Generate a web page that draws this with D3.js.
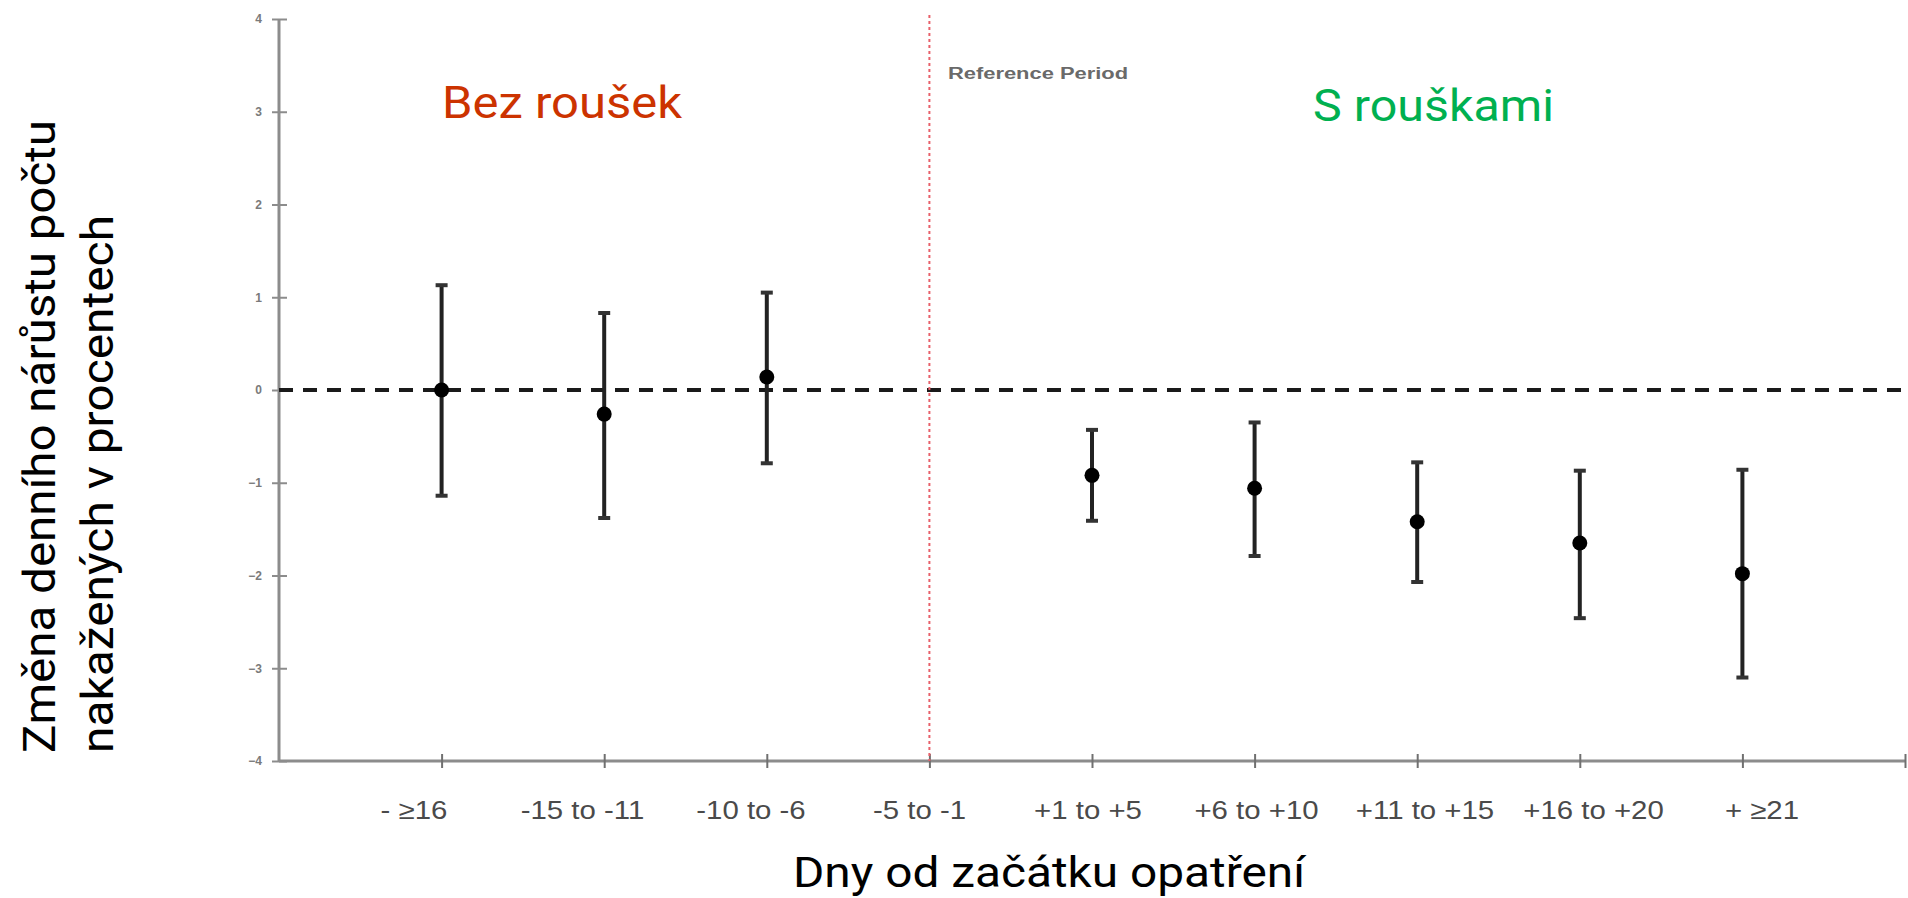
<!DOCTYPE html>
<html><head><meta charset="utf-8">
<script src="https://cdn.jsdelivr.net/npm/d3@7"></script>
<style>html,body{margin:0;padding:0;background:#fff;overflow:hidden}</style>
</head><body><svg id="c" width="1908" height="898"></svg>
<script>
// ---- data ----
const categories = ["- ≥16","-15 to -11","-10 to -6","-5 to -1","+1 to +5","+6 to +10","+11 to +15","+16 to +20","+ ≥21"];
const estimate = [0.00,-0.26,0.14,null,-0.92,-1.06,-1.42,-1.65,-1.98];
const lower    = [-1.14,-1.38,-0.79,null,-1.41,-1.79,-2.07,-2.46,-3.10];
const upper    = [1.13,0.83,1.05,null,-0.43,-0.35,-0.78,-0.87,-0.86];
const yTicks = [-4,-3,-2,-1,0,1,2,3,4];
const referenceCategory = "-5 to -1";
const yTitleLines = ["Změna denního nárůstu počtu","nakažených v procentech"];
const xTitle = "Dny od začátku opatření";
const leftLabel = "Bez roušek";
const rightLabel = "S rouškami";
const refLabel = "Reference Period";

// ---- layout ----
const svg = d3.select("#c");
const titleFont = "Roboto, 'DejaVu Sans', sans-serif";
const x = d3.scaleLinear().domain([-1, categories.length]).range([279, 1905]);
const xc = c => x(categories.indexOf(c));
const xLab = d3.scalePoint().domain(categories).range([414, 1762]);
const y = d3.scaleLinear().domain([-4, 4]).range([761, 19]);

// y axis
const yAxis = svg.append("g").attr("transform", `translate(${x(-1)},0)`)
  .call(d3.axisLeft(y).tickValues(yTicks).tickSize(7).tickFormat(d3.format("d")));
yAxis.select(".domain").attr("stroke", "#8c8c8c").attr("stroke-width", 3).attr("d", `M0,${y(4)}V${y(-4)}`);
yAxis.selectAll(".tick line").attr("stroke", "#8c8c8c").attr("stroke-width", 2).attr("x1", 8).attr("x2", -7);
yAxis.selectAll(".tick text").attr("x", -17).attr("fill", "#7a7a7a")
  .style("font", "bold 12px 'Liberation Sans', Arial, sans-serif");

// x axis
const xTickVals = d3.range(0, categories.length + 1);
const xAxis = svg.append("g").attr("transform", `translate(0,${y(-4)})`)
  .call(d3.axisBottom(x).tickValues(xTickVals).tickSize(7).tickFormat(""));
xAxis.select(".domain").attr("stroke", "#8c8c8c").attr("stroke-width", 3).attr("d", `M${x(-1)},0H${x(categories.length)}`);
xAxis.selectAll(".tick line").attr("stroke", "#707070").attr("stroke-width", 2).attr("y1", -7).attr("y2", 7);

// x tick labels
svg.append("g").selectAll("text").data(categories).join("text")
  .attr("x", d => xLab(d)).attr("y", 819)
  .attr("text-anchor", "middle").attr("fill", "#4a4a4a")
  .style("font", "26px 'Liberation Sans', Arial, sans-serif")
  .text(d => d)
  .each(function(){ const w = this.getComputedTextLength(); d3.select(this).attr("textLength", w*1.13).attr("lengthAdjust","spacingAndGlyphs"); });

// zero dashed line
svg.append("line").attr("x1", x(-1)).attr("x2", 1908).attr("y1", y(0)).attr("y2", y(0))
  .attr("stroke", "#1a1a1a").attr("stroke-width", 4).attr("stroke-dasharray", "14 10");

// reference line
svg.append("line").attr("x1", xc(referenceCategory)).attr("x2", xc(referenceCategory))
  .attr("y1", 15).attr("y2", y(-4))
  .attr("stroke", "#e8606a").attr("stroke-width", 2).attr("stroke-dasharray", "3 3");

// error bars
const pts = categories.map((c,i)=>({c, e:estimate[i], lo:lower[i], hi:upper[i]})).filter(d=>d.e!==null);
const g = svg.append("g");
g.selectAll("line.bar").data(pts).join("line").attr("class","bar")
  .attr("x1", d=>xc(d.c)).attr("x2", d=>xc(d.c)).attr("y1", d=>y(d.hi)).attr("y2", d=>y(d.lo))
  .attr("stroke", "#222").attr("stroke-width", 4);
["hi","lo"].forEach(k=>{
  g.selectAll("line.cap"+k).data(pts).join("line").attr("class","cap"+k)
    .attr("x1", d=>xc(d.c)-6).attr("x2", d=>xc(d.c)+6).attr("y1", d=>y(d[k])).attr("y2", d=>y(d[k]))
    .attr("stroke", "#333").attr("stroke-width", 4);
});
g.selectAll("circle").data(pts).join("circle")
  .attr("cx", d=>xc(d.c)).attr("cy", d=>y(d.e)).attr("r", 7.5).attr("fill", "#000");

// annotations
svg.append("text").attr("x", 442).attr("y", 118).attr("fill", "#cc3300")
  .attr("textLength", 240).attr("lengthAdjust","spacingAndGlyphs")
  .style("font", `44px ${titleFont}`).text(leftLabel);
svg.append("text").attr("x", 1313).attr("y", 121).attr("fill", "#00b050")
  .attr("textLength", 241).attr("lengthAdjust","spacingAndGlyphs")
  .style("font", `44px ${titleFont}`).text(rightLabel);
svg.append("text").attr("x", 948).attr("y", 79).attr("fill", "#6a6a6a")
  .attr("textLength", 180).attr("lengthAdjust","spacingAndGlyphs")
  .style("font", "bold 16px 'Liberation Sans', Arial, sans-serif").text(refLabel);

// axis titles
svg.append("text").attr("x", 793).attr("y", 887).attr("fill", "#000")
  .attr("textLength", 512).attr("lengthAdjust","spacingAndGlyphs")
  .style("font", `42px ${titleFont}`).text(xTitle);
const yLens = [633, 538];
const yBase = [55, 113];
yTitleLines.forEach((t,i)=>{
  svg.append("text").attr("transform", `translate(${yBase[i]},753) rotate(-90)`)
    .attr("fill", "#000").attr("textLength", yLens[i]).attr("lengthAdjust","spacingAndGlyphs")
    .style("font", `44px ${titleFont}`).text(t);
});
</script></body></html>
